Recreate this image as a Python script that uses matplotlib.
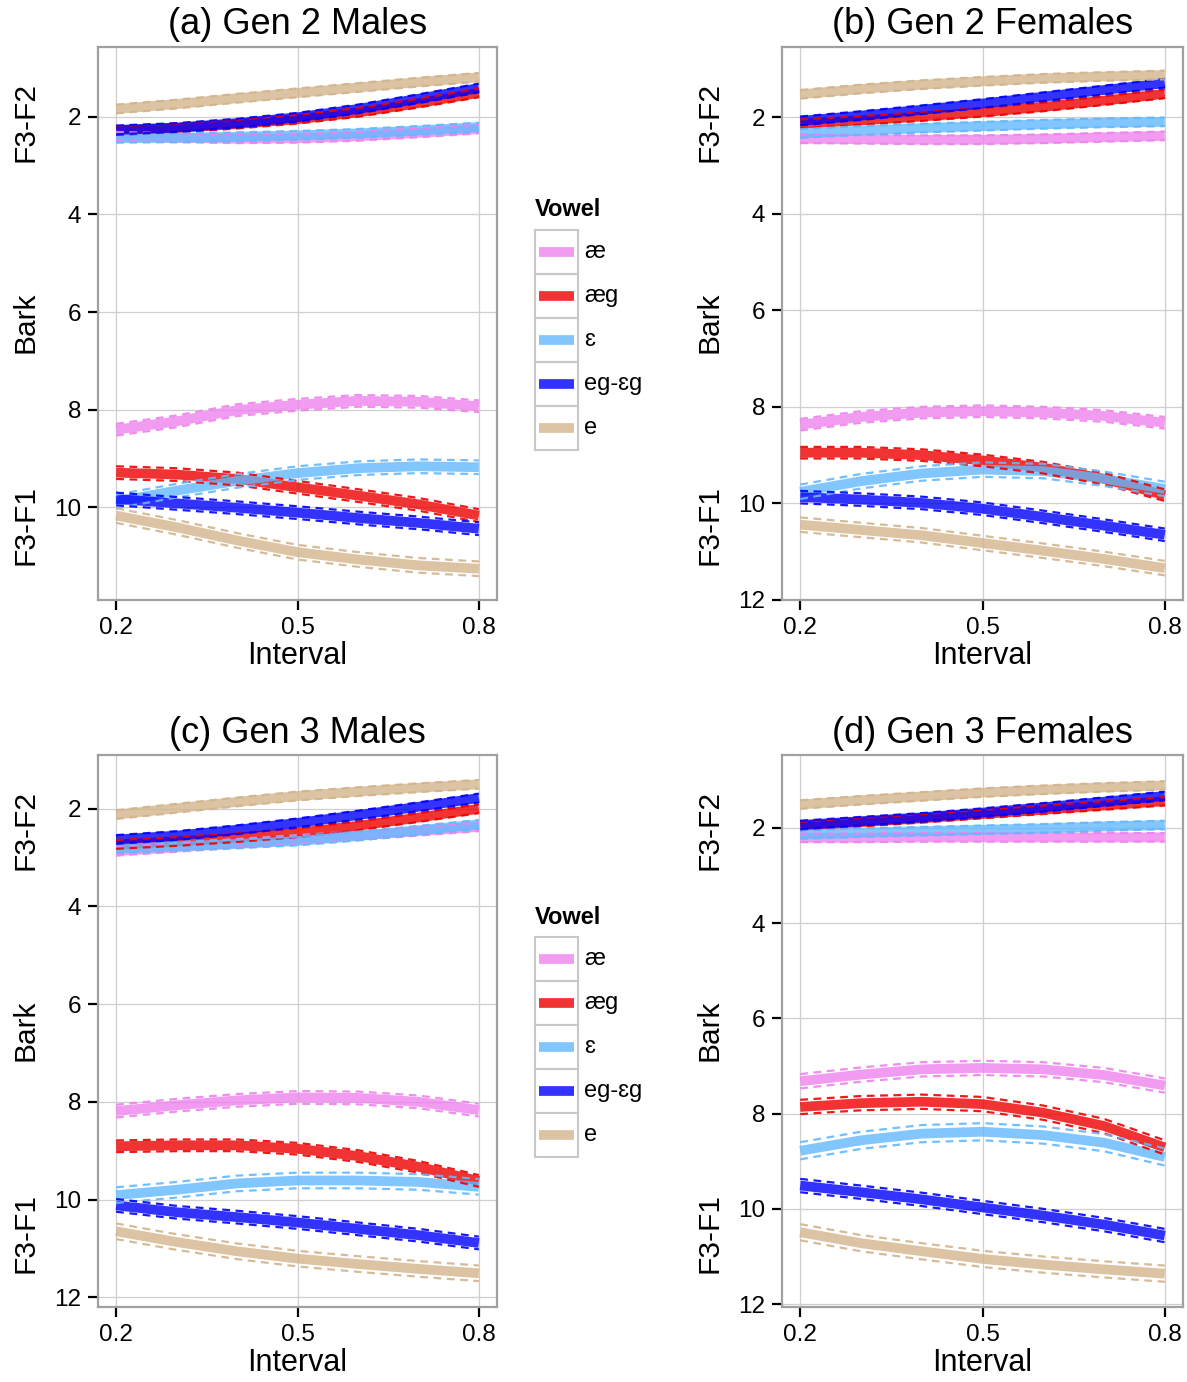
import numpy as np
import matplotlib
matplotlib.use("Agg")
from matplotlib import pyplot as plt
from matplotlib.patches import Rectangle

plt.rcParams['font.family'] = ['Liberation Sans', 'DejaVu Sans']

# time points (normalised interval)
interval = [0.2, 0.3, 0.4, 0.5, 0.6, 0.7, 0.8]
vowels = ['æ', 'æg', 'ɛ', 'eg-ɛg', 'e']
colors = ['#EE82EE', '#EE0000', '#63B8FF', '#0000FF', '#D2B48C']

titles = ['(a) Gen 2 Males', '(b) Gen 2 Females', '(c) Gen 3 Males', '(d) Gen 3 Females']

# F3-F2 in Bark, one row per vowel (order as in `vowels`)
g2m_f3f2 = [[2.40, 2.43, 2.45, 2.44, 2.40, 2.33, 2.25],
            [2.28, 2.23, 2.15, 2.05, 1.91, 1.72, 1.51],
            [2.44, 2.43, 2.41, 2.38, 2.34, 2.28, 2.21],
            [2.27, 2.22, 2.13, 2.01, 1.84, 1.63, 1.41],
            [1.84, 1.74, 1.62, 1.51, 1.40, 1.29, 1.19]]
g2f_f3f2 = [[2.45, 2.46, 2.47, 2.47, 2.45, 2.42, 2.39],
            [2.14, 2.07, 1.99, 1.90, 1.79, 1.66, 1.52],
            [2.34, 2.28, 2.23, 2.19, 2.15, 2.12, 2.10],
            [2.08, 1.97, 1.85, 1.72, 1.58, 1.44, 1.30],
            [1.53, 1.42, 1.33, 1.26, 1.20, 1.16, 1.13]]
g3m_f3f2 = [[2.87, 2.79, 2.71, 2.63, 2.55, 2.46, 2.37],
            [2.73, 2.67, 2.59, 2.49, 2.35, 2.18, 2.00],
            [2.82, 2.77, 2.72, 2.66, 2.56, 2.44, 2.32],
            [2.63, 2.55, 2.43, 2.29, 2.13, 1.96, 1.78],
            [2.12, 1.99, 1.86, 1.74, 1.65, 1.57, 1.50]]
g3f_f3f2 = [[2.21, 2.21, 2.20, 2.20, 2.20, 2.20, 2.20],
            [1.96, 1.88, 1.80, 1.71, 1.62, 1.53, 1.44],
            [2.14, 2.10, 2.07, 2.04, 2.01, 1.97, 1.94],
            [1.94, 1.86, 1.78, 1.68, 1.57, 1.45, 1.33],
            [1.51, 1.42, 1.34, 1.26, 1.20, 1.15, 1.11]]

# F3-F1 in Bark
g2m_f3f1 = [[8.41, 8.24, 8.01, 7.90, 7.82, 7.84, 7.93],
            [9.29, 9.33, 9.42, 9.59, 9.76, 9.94, 10.17],
            [9.88, 9.66, 9.46, 9.30, 9.20, 9.16, 9.18],
            [9.83, 9.92, 10.01, 10.11, 10.22, 10.32, 10.44],
            [10.17, 10.41, 10.68, 10.92, 11.07, 11.19, 11.26]]
g2f_f3f1 = [[8.37, 8.21, 8.12, 8.09, 8.12, 8.19, 8.33],
            [8.95, 8.95, 9.00, 9.11, 9.26, 9.49, 9.83],
            [9.76, 9.54, 9.38, 9.30, 9.33, 9.49, 9.70],
            [9.87, 9.92, 9.99, 10.11, 10.28, 10.46, 10.65],
            [10.44, 10.55, 10.66, 10.82, 10.98, 11.15, 11.34]]
g3m_f3f1 = [[8.19, 8.07, 7.97, 7.91, 7.92, 8.00, 8.17],
            [8.91, 8.89, 8.89, 8.96, 9.11, 9.33, 9.62],
            [9.91, 9.80, 9.67, 9.61, 9.61, 9.64, 9.74],
            [10.12, 10.26, 10.36, 10.47, 10.60, 10.73, 10.89],
            [10.65, 10.87, 11.06, 11.21, 11.32, 11.42, 11.51]]
g3f_f3f1 = [[7.32, 7.18, 7.07, 7.04, 7.07, 7.19, 7.41],
            [7.86, 7.78, 7.75, 7.80, 7.98, 8.26, 8.71],
            [8.78, 8.56, 8.42, 8.38, 8.45, 8.61, 8.91],
            [9.51, 9.65, 9.80, 9.97, 10.14, 10.33, 10.56],
            [10.49, 10.72, 10.89, 11.05, 11.17, 11.27, 11.36]]

# half width of the confidence band (Bark) per vowel
ci_f3f2 = [0.09, 0.09, 0.09, 0.09, 0.09]
ci_g2m = [0.12, 0.13, 0.14, 0.13, 0.15]
ci_g2f = [0.12, 0.12, 0.15, 0.13, 0.15]
ci_g3m = [0.13, 0.12, 0.16, 0.13, 0.16]
ci_g3f = [0.15, 0.15, 0.18, 0.14, 0.17]

W, H = 1187, 1382
fig = plt.figure(figsize=(W / 100, H / 100), dpi=100)


def px_axes(l, t, r, b):
    return fig.add_axes([l / W, 1 - b / H, (r - l) / W, (b - t) / H])


def draw_panel(box, ylim, f2, f1, ci1, title, title_y):
    ax = px_axes(*box)
    x = np.array(interval)
    for groups, cis in ((f2, ci_f3f2), (f1, ci1)):
        for i, vals in enumerate(groups):
            v = np.array(vals)
            ax.plot(x, v, color=colors[i], lw=7, alpha=0.8, solid_capstyle='butt', zorder=3)
            for s in (-1, 1):
                ax.plot(x, v + s * cis[i], color=colors[i], lw=1.6, ls=(0, (3.5, 2.5)),
                        alpha=0.9, zorder=4)
    ax.set_xticks([0.2, 0.5, 0.8])
    ax.set_xticklabels(['0.2', '0.5', '0.8'])
    ax.set_yticks([2, 4, 6, 8, 10, 12])
    ax.set_xlim(0.17, 0.83)
    ax.set_ylim(*ylim)
    ax.grid(True, color='#CFCFCF', lw=0.9, zorder=0)
    ax.set_axisbelow(True)
    for sp in ax.spines.values():
        sp.set_color('#A0A0A0')
        sp.set_linewidth(1.6)
    ax.tick_params(length=7, width=1.6, labelsize=17.5, color='black', pad=5)
    ax.set_xlabel('Interval', fontsize=22, labelpad=2)
    l, t, r, b = box
    cx = (l + r) / 2
    fig.text(cx / W, 1 - title_y / H, title, ha='center', va='center', fontsize=26)
    # three-part y label
    lx = l - 73
    fig.text(lx / W, 1 - (t + 75) / H, 'F3-F2', rotation=90, ha='center', va='center', fontsize=21.5)
    fig.text(lx / W, 1 - (t + 275) / H, 'Bark', rotation=90, ha='center', va='center', fontsize=21.5)
    fig.text(lx / W, 1 - (t + 478) / H, 'F3-F1', rotation=90, ha='center', va='center', fontsize=21.5)
    return ax


draw_panel((98, 47, 497, 600), (11.9, 0.57), g2m_f3f2, g2m_f3f1, ci_g2m, titles[0], 25)
draw_panel((782, 47, 1183, 600), (12.0, 0.55), g2f_f3f2, g2f_f3f1, ci_g2f, titles[1], 25)
draw_panel((98, 755, 497, 1307), (12.2, 0.9), g3m_f3f2, g3m_f3f1, ci_g3m, titles[2], 733)
draw_panel((782, 755, 1183, 1307), (12.06, 0.47), g3f_f3f2, g3f_f3f1, ci_g3f, titles[3], 733)


def draw_legend(top):
    lg = fig.add_axes([530 / W, 1 - (top + 260) / H, 140 / W, 260 / H])
    lg.set_xlim(530, 670)
    lg.set_ylim(top + 260, top)
    lg.axis('off')
    lg.text(535, top + 15, 'Vowel', fontsize=17, fontweight='bold', va='center', ha='left')
    for i, name in enumerate(vowels):
        y0 = top + 35 + i * 44
        lg.add_patch(Rectangle((535, y0), 43, 44, facecolor='white', edgecolor='#C8C8C8', lw=1.5))
        lg.plot([539, 574], [y0 + 22, y0 + 22], color=colors[i], lw=7, alpha=0.8,
                solid_capstyle='butt')
        lg.text(584, y0 + 22, name, fontsize=17, va='center', ha='left')


draw_legend(195)
draw_legend(902)

fig.savefig('out.png', dpi=100)
